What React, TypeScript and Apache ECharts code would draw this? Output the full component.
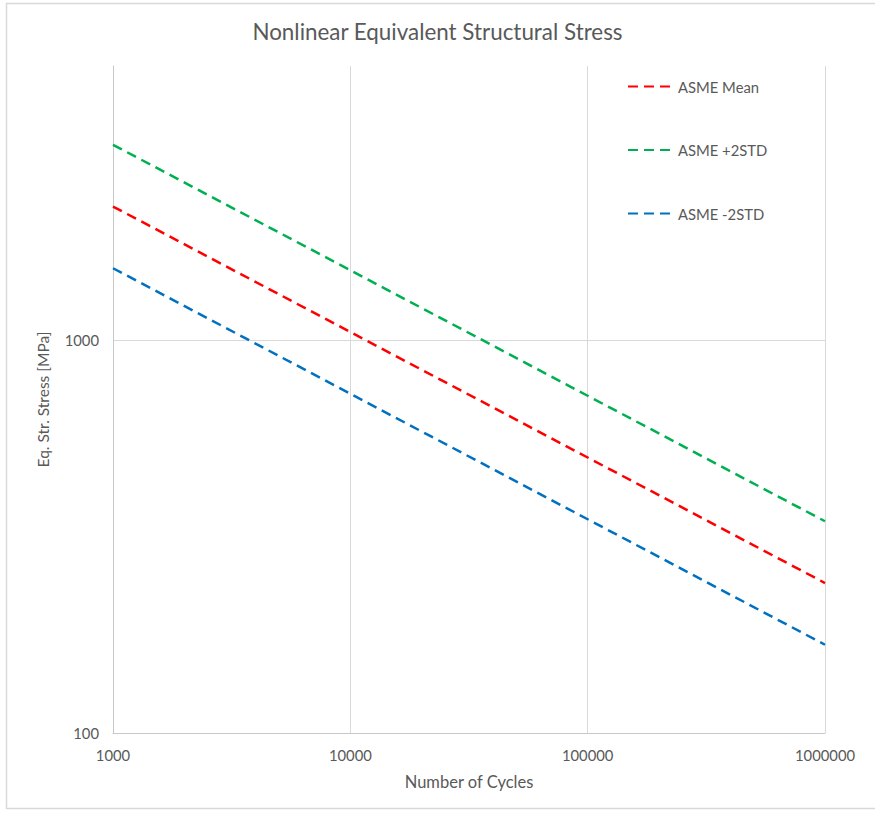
import React, { useEffect, useRef } from "react";
import * as echarts from "echarts";

// Cycle counts (x, log scale) and stress values in MPa for each design curve
const cycles = [1000, 10000, 100000, 1000000];
const asmeMean = [2193, 1050.5, 503.2, 241.0];
const asmePlus2Std = [3150, 1509, 722.8, 346.2];
const asmeMinus2Std = [1527, 731.4, 350.3, 167.8];

const seriesNames = ["ASME Mean", "ASME +2STD", "ASME -2STD"];
const seriesColors = ["#FF0000", "#00B050", "#0070C0"];

const FONT = "Lato, 'Noto Sans', sans-serif";
const TEXT = "#595959";

export default function App() {
  const ref = useRef<HTMLDivElement>(null);

  useEffect(() => {
    if (!ref.current) return;
    const chart = echarts.init(ref.current, undefined, { renderer: "svg" });

    const values = [asmeMean, asmePlus2Std, asmeMinus2Std];
    const series = values.map((vals, i) => ({
      name: seriesNames[i],
      type: "line",
      symbol: "none",
      data: cycles.map((c, j) => [c, vals[j]]),
      lineStyle: { color: seriesColors[i], width: 2.5, type: [10, 6] },
      itemStyle: { color: seriesColors[i] },
    }));

    const isPow10 = (v: number) => {
      const l = Math.log10(v);
      return Math.abs(l - Math.round(l)) < 1e-6;
    };

    chart.setOption({
      animation: false,
      backgroundColor: "#ffffff",
      title: {
        text: "Nonlinear Equivalent Structural Stress",
        left: "center",
        top: 15,
        textStyle: { fontFamily: FONT, fontSize: 22.4, fontWeight: "normal", color: TEXT },
      },
      graphic: [
        {
          type: "rect",
          shape: { x: 6.5, y: 3.5, width: 880, height: 805 },
          style: { fill: "none", stroke: "#d9d9d9", lineWidth: 1.5 },
          silent: true,
        },
      ],
      legend: {
        orient: "vertical",
        left: 627,
        top: 79,
        padding: 0,
        itemWidth: 46,
        itemHeight: 14,
        itemGap: 48.5,
        data: seriesNames,
        itemStyle: { opacity: 0 },
        textStyle: { fontFamily: FONT, fontSize: 14.8, color: TEXT, padding: [0, 0, 0, -1] },
      },
      grid: { left: 113, right: 50, top: 66, bottom: 81 },
      xAxis: {
        type: "log",
        logBase: 10,
        min: 1000,
        max: 1000000,
        name: "Number of Cycles",
        nameLocation: "middle",
        nameGap: 40,
        nameTextStyle: { fontFamily: FONT, fontSize: 16.5, color: TEXT },
        axisLine: { show: true, lineStyle: { color: "#c8c8c8", width: 1 } },
        axisTick: { show: false },
        axisLabel: {
          margin: 14,
          fontFamily: FONT,
          fontSize: 14.8,
          color: TEXT,
          formatter: (v: number) => String(Math.round(v)),
        },
        splitLine: { show: true, lineStyle: { color: "#d9d9d9", width: 1 } },
      },
      yAxis: {
        type: "log",
        logBase: 10,
        min: 100,
        max: 5000,
        name: "Eq. Str. Stress [MPa]",
        nameLocation: "middle",
        nameGap: 62,
        nameTextStyle: { fontFamily: FONT, fontSize: 15.5, color: TEXT },
        axisLine: { show: true, lineStyle: { color: "#c8c8c8", width: 1 } },
        axisTick: { show: false },
        axisLabel: {
          margin: 14,
          fontFamily: FONT,
          fontSize: 14.8,
          color: TEXT,
          formatter: (v: number) => (isPow10(v) ? String(Math.round(v)) : ""),
        },
        splitLine: {
          show: true,
          showMaxLine: false,
          lineStyle: { color: "#d9d9d9", width: 1 },
        },
      },
      series,
    });

    return () => chart.dispose();
  }, []);

  return (
    <div
      ref={ref}
      style={{ position: "absolute", left: 0, top: 0, width: 875, height: 814 }}
    />
  );
}
